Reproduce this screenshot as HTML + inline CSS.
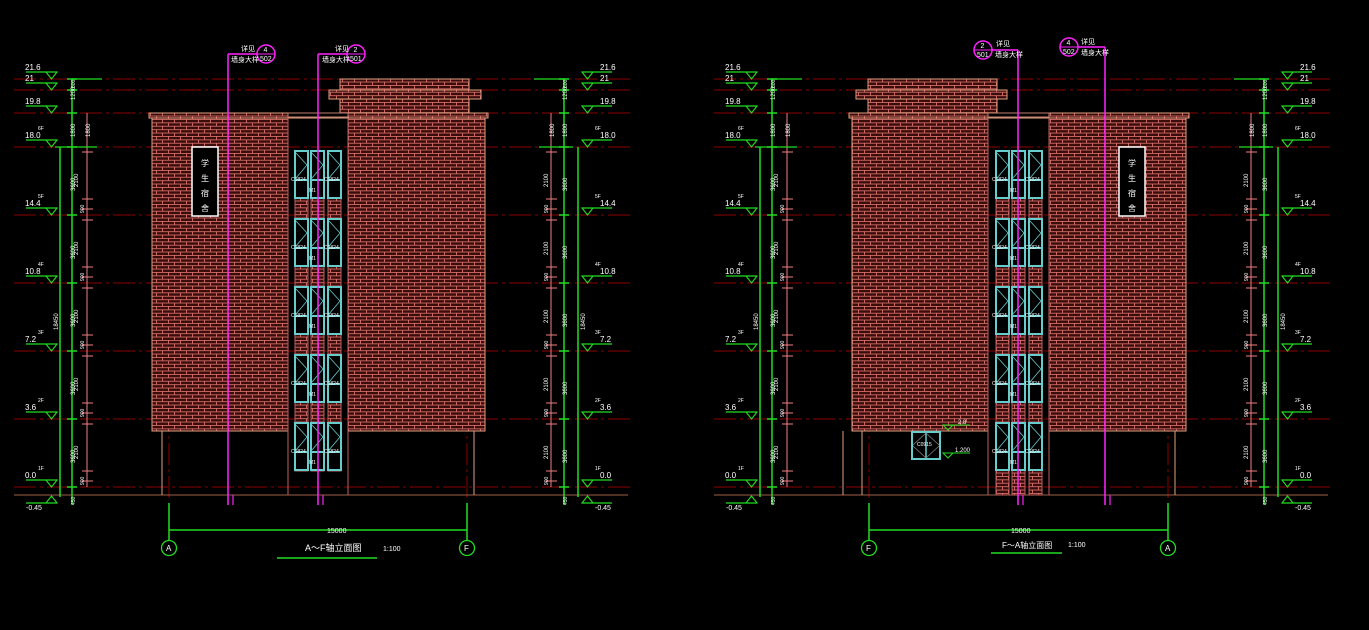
<!DOCTYPE html>
<html><head><meta charset="utf-8">
<style>
html,body{margin:0;padding:0;background:#000;width:1369px;height:630px;overflow:hidden}
svg{display:block}
text{font-family:"Liberation Sans","Noto Sans CJK SC",sans-serif;fill:#fff}
</style></head>
<body>
<svg id="s" xmlns="http://www.w3.org/2000/svg" width="1369" height="630" viewBox="0 0 1369 630">
<defs>
<pattern id="brick" patternUnits="userSpaceOnUse" width="12" height="6.8">
<rect width="12" height="6.8" fill="#3a0d0d"/>
<path d="M0 0.4H12M0 3.8H12M0.5 0.4V3.8M6.5 3.8V6.8" stroke="#d8706a" stroke-width="0.9" fill="none"/>
</pattern>
</defs>
<g id="g"></g>
<text x="305" y="551" font-size="9">A～F轴立面图</text>
<text x="383" y="551" font-size="7">1:100</text>
<text x="327" y="533" font-size="7">15000</text>
<text x="1002" y="548" font-size="8">F～A轴立面图</text>
<text x="1068" y="547" font-size="7">1:100</text>
<text x="1011" y="533" font-size="7">15000</text>
<text x="241" y="51" font-size="7">详见</text>
<text x="231" y="62" font-size="7">墙身大样</text>
<text x="335" y="51" font-size="7">详见</text>
<text x="322" y="62" font-size="7">墙身大样</text>
<text x="996" y="46" font-size="7">详见</text>
<text x="995" y="57" font-size="7">墙身大样</text>
<text x="1081" y="44" font-size="7">详见</text>
<text x="1081" y="55" font-size="7">墙身大样</text>
</svg>
<script>
var g=document.getElementById('g');
function A(t,a,tx){var e=document.createElementNS('http://www.w3.org/2000/svg',t);for(var k in a)e.setAttribute(k,a[k]);if(tx!==undefined)e.textContent=tx;g.appendChild(e);return e;}
function L(x1,y1,x2,y2,c,w,d){var a={x1:x1,y1:y1,x2:x2,y2:y2,stroke:c,'stroke-width':w||1};if(d)a['stroke-dasharray']=d;return A('line',a);}
function R(x,y,w,h,f,s,sw){return A('rect',{x:x,y:y,width:w,height:h,fill:f||'none',stroke:s||'none','stroke-width':sw||1});}
function T(x,y,t,sz,c,rot){var a={x:x,y:y,'font-size':sz||8};if(c)a.fill=c;if(rot)a.transform='rotate(-90 '+x+' '+y+')';return A('text',a,t);}
var GR='#22dd22',RD='#8b0000',PK='#f08080',MG='#ff22ff',CY='#66cccc';
var levels=[[79,'21.6'],[90,'21'],[113,'19.8'],[147,'18.0'],[215,'14.4'],[283,'10.8'],[351,'7.2'],[419,'3.6'],[487,'0.0']];

function drawing(o){
 var ox=o.ox;
 levels.forEach(function(l){L(ox+14,l[0],ox+630,l[0],RD,1,'22,4,3,4');});
 L(o.ax1,113,o.ax1,500,RD,1,'22,4,3,4');L(o.ax2,113,o.ax2,500,RD,1,'22,4,3,4');
 L(ox+14,495,ox+628,495,'#a0604a',1);
 R(o.b1,118,o.b2-o.b1,313,'url(#brick)','#e0a080',1);
 R(o.b3,118,o.b4-o.b3,313,'url(#brick)','#e0a080',1);
 R(o.b1-3,113,o.b4-o.b1+6,5,'url(#brick)','#e0a080',1);
 R(o.p1,79,o.p2-o.p1,34,'url(#brick)','#e0a080',1);
 R(o.l1,90,o.l2-o.l1,9,'url(#brick)','#e0a080',1);
 R(o.b2,113,o.b3-o.b2,4,'#000','#c08070',1);
 L(o.c1,431,o.c1,495,'#e0a080',1);L(o.c2,431,o.c2,495,'#e0a080',1);
 L(o.b2,118,o.b2,495,'#c06060',1);L(o.b3,118,o.b3,495,'#c06060',1);
 o.wx.forEach(function(x){
  R(x,151,13,o.brickLow?344:320,'url(#brick)','#c06060',1);
  for(var i=0;i<5;i++){var y=151+68*i;
   R(x,y,13,47,'#000',CY,2);L(x,y+29,x+13,y+29,CY,2);
   L(x+1,y+2,x+12,y+14,CY,0.8);L(x+12,y+14,x+1,y+27,CY,0.8);
  }
  if(!o.brickLow)R(x,471,0,24,'none','#c06060',1);
 });
 for(var i=0;i<5;i++){var y=151+68*i;
  T(o.wx[0]-4,y+30,'C1824',5,'#ff2020');T(o.wx[2]-4,y+30,'C1824',5,'#ff2020');T(o.wx[1]-2,y+41,'M1',5,'#ff2020');}
 R(o.pq,147,26,69,'#000','#fff',1.5);
 ['学','生','宿','舍'].forEach(function(c,i){T(o.pq+9,166+i*15,c,8);});
 o.mg.forEach(function(m){
  L(m.x,m.y,m.x,505,MG,1.5);L(m.x,m.y,m.hx,m.y,MG,1.5);
  A('circle',{cx:m.cx,cy:m.y,r:9,fill:'#000',stroke:MG,'stroke-width':1.5});
  L(m.cx-9,m.y,m.cx+9,m.y,MG,1);
  T(m.cx-2.5,m.y-2,m.n,7);T(m.cx-6,m.y+7,m.s,7);
  L(m.x+5,495,m.x+5,505,MG,1.2);
 });
 L(o.ax1,530,o.ax2,530,GR,1.5);L(o.ax1,503,o.ax1,540,GR,1.5);L(o.ax2,503,o.ax2,540,GR,1.5);
 A('circle',{cx:o.ax1,cy:548,r:7.5,fill:'none',stroke:GR,'stroke-width':1.3});
 A('circle',{cx:o.ax2,cy:548,r:7.5,fill:'none',stroke:GR,'stroke-width':1.3});
 T(o.ax1-3,551,o.a1,8);T(o.ax2-3,551,o.a2,8);
 L(o.ul1,o.uly,o.ul2,o.uly,GR,1.5);
 [[ox+60,ox+72,ox+87,-1],[ox+578,ox+564,ox+551,1]].forEach(function(c){
  var gA=c[0],gB=c[1],pk=c[2],s=c[3];
  L(gB,79,gB,505,GR,1.5);L(gA,147,gA,497,GR,1.5);L(pk,113,pk,487,PK,1);
  L(gB,79,gB+s*-30,79,GR,1.2);L(gA-5,147,gB+s*-25,147,GR,1.2);
  levels.forEach(function(l){L(gB-5,l[0],gB+5,l[0],GR,1.5);});
  for(var i=0;i<5;i++){var y=147+68*i;L(pk-5,y+5,pk+6,y+5,PK,1);L(pk-5,y+52,pk+6,y+52,PK,1);L(pk-5,y+62,pk+6,y+62,PK,1);
   T(pk-s*-3-6,y+40,'2100',6,null,1);T(pk-3,y+66,'900',5,null,1);T(gB+3,y+44,'3600',6,null,1);}
  T(gB+3,100,'1200',6,null,1);T(gB+3,137,'1800',6,null,1);T(pk+3,137,'1800',6,null,1);T(gB+3,88,'600',5,null,1);
  T(gA+(s>0?7:-2),330,'18450',6,null,1);
  T(gB+3,505,'450',5,null,1);
  var mx=s<0?ox+46:ox+582, tx=s<0?ox+25:ox+600, lx1=s<0?ox+26:ox+582, lx2=s<0?ox+57:ox+612;
  levels.forEach(function(l){var y=l[0];
   L(lx1,y-7,lx2,y-7,GR,1.2);
   A('polygon',{points:(mx)+','+(y-7)+' '+(mx+11)+','+(y-7)+' '+(mx+5.5)+','+y,fill:'none',stroke:GR,'stroke-width':1.1});
   T(tx,y-9,l[1],8);
  });
  var y=496;A('polygon',{points:(mx)+','+(y+7)+' '+(mx+11)+','+(y+7)+' '+(mx+5.5)+','+y,fill:'none',stroke:GR,'stroke-width':1.1});
  L(lx1,y+7,lx2,y+7,GR,1.2);T(s<0?ox+26:ox+595,y+14,'-0.45',7);
  ['1F','2F','3F','4F','5F','6F'].forEach(function(f,i){T(s<0?ox+38:ox+595,470-i*68,f,5);});
 });
}
drawing({ox:0,ax1:169,ax2:467,b1:152,b2:288,b3:348,b4:485,p1:340,p2:469,l1:329,l2:481,c1:162,c2:474,
 wx:[295,311,328],brickLow:false,pq:192,a1:'A',a2:'F',ul1:277,ul2:377,uly:558,
 mg:[{x:228,y:54,hx:266,cx:266,n:'4',s:'502'},{x:318,y:54,hx:356,cx:356,n:'2',s:'501'}]});
drawing({ox:700,ax1:869,ax2:1168,b1:852,b2:988,b3:1049,b4:1186,p1:868,p2:997,l1:856,l2:1007,c1:862,c2:1175,
 wx:[996,1012,1029],brickLow:true,pq:1119,a1:'F',a2:'A',ul1:991,ul2:1062,uly:553,
 mg:[{x:1018,y:50,hx:983,cx:983,n:'2',s:'501'},{x:1105,y:47,hx:1069,cx:1069,n:'4',s:'502'}]});
R(912,432,28,27,'#000',CY,2);L(926,432,926,459,CY,1.5);L(913,445,926,433,'#888',0.7);L(926,433,939,445,'#888',0.7);L(913,446,926,458,'#888',0.7);L(939,446,926,458,'#888',0.7);
L(943,425,970,425,GR,1);A('polygon',{points:'943,425 953,425 948,430',fill:'none',stroke:GR});T(958,424,'2.8',6);
L(943,453,970,453,GR,1);A('polygon',{points:'943,453 953,453 948,458',fill:'none',stroke:GR});T(955,452,'1.200',6);
T(917,446,'C0915',5,'#ff2020');
L(862,431,862,495,'#e0a080',1);L(843,431,843,495,'#e0a080',1);
</script>
</body></html>
